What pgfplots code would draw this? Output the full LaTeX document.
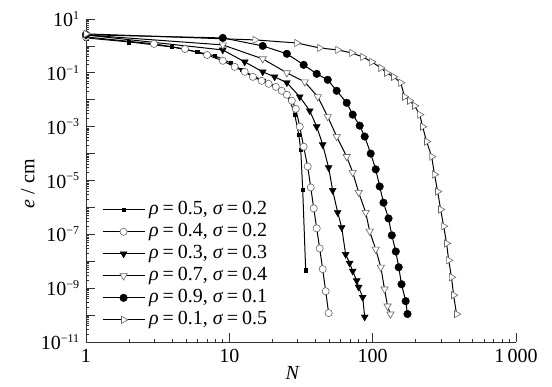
\documentclass[border=0pt]{standalone}
\usepackage{fontspec}
\setmainfont{Liberation Serif}
\usepackage{pgfplots}
\pgfplotsset{compat=1.18}
\newcommand\tsup[1]{\raisebox{0.8ex}{\fontsize{12bp}{12bp}\selectfont #1}}
\newcommand\eq{\hspace{0.2em}=\hspace{0.2em}}
\begin{document}
\fontsize{20bp}{22bp}\selectfont
\begin{tikzpicture}
\useasboundingbox (-86bp,-45bp) rectangle (466bp,342bp);
\begin{axis}[
 scale only axis, width=430bp, height=323bp,
 xmode=log, ymode=log,
 xmin=1, xmax=1000, ymin=1e-11, ymax=10,
 axis lines*=left,
 axis line style={-, line width=0.8bp, black!80},
 xtick={1,10,100,1000}, xticklabels={1,10,100,1\,000},
 ytick={1e-11,1e-10,1e-9,1e-8,1e-7,1e-6,1e-5,1e-4,1e-3,1e-2,1e-1,1,10},
 yticklabels={10\tsup{−11},,10\tsup{−9},,10\tsup{−7},,10\tsup{−5},,10\tsup{−3},,10\tsup{−1},,10\tsup{1}},
 minor xtick={}, minor ytick={},
 tick align=inside, major tick length=9bp,
 tick style={line width=0.8bp, black!80},
 clip=false,
 xlabel={\itshape N},
 xlabel style={at={(axis description cs:0.48,-0.095)}, anchor=center},
 ylabel={{\itshape e} / cm},
 ylabel style={at={(axis description cs:-0.135,0.49)}, anchor=center},
 legend cell align=left,
 legend image code/.code={\draw[mark repeat=2,mark phase=2,#1] plot coordinates {(0bp,0bp) (21bp,0bp) (42bp,0bp)};},
 legend style={draw=none, fill=none, at={(axis description cs:0.03,0.45)}, anchor=north west,
   row sep=0pt, nodes={inner ysep=1.5bp, inner xsep=4bp, text height=14bp, text depth=5bp}},
 every axis plot/.append style={black, line width=1bp},
]
\addplot[mark=square*, mark size=1.8bp, mark options={fill=black, line width=0.4bp}] coordinates {
(1,1.98) (1.99,1.41) (3.97,0.92) (5.94,0.60) (7.93,0.43) (10.2,0.234) (12.2,0.129) (14.6,0.077)
(17.4,0.0506) (20.7,0.033) (23.6,0.0215) (26.4,0.010) (28.6,0.0028) (30.5,5.1e-4) (31.5,1.4e-4)
(32.5,4.6e-6) (34.1,4.6e-9)};
\addlegendentry{{\itshape ρ}\eq 0.5, {\itshape σ}\eq 0.2}
\addplot[mark=*, mark size=3.6bp, mark options={fill=white, draw=black!60, line width=0.6bp}] coordinates {
(1,2.15) (2.98,1.19) (4.9,0.77) (7.0,0.46) (9.0,0.28) (10.9,0.167) (12.8,0.109) (14.6,0.071)
(16.8,0.0506) (18.8,0.039) (21.1,0.030) (23.2,0.0215) (25.2,0.0153) (27.3,0.0092) (29.1,0.0046)
(31.0,0.001) (33.0,1.8e-4) (35.2,3.3e-5) (37.0,5.5e-6) (38.8,9.2e-7) (40.7,1.67e-7) (42.7,3e-8)
(44.8,5.1e-9) (47.0,7.7e-10) (49.3,1.19e-10)};
\addlegendentry{{\itshape ρ}\eq 0.4, {\itshape σ}\eq 0.2}
\addplot[mark=triangle*, mark size=4bp, mark options={rotate=180, fill=black, line width=0.4bp}] coordinates {
(1,2.55) (9.0,0.71) (12.8,0.255) (17.1,0.109) (20.7,0.071) (25.2,0.043) (31.0,0.0129) (36.4,0.0039)
(40.7,0.001) (44.8,2.15e-4) (49.3,3e-5) (52.6,4.3e-6) (57.0,6.5e-7) (60.8,1.8e-7) (64.8,1.8e-8)
(69.1,8.5e-9) (72.6,4.3e-9) (77.4,1.9e-9) (79.9,1.09e-9) (85.2,4.6e-10) (88,8.5e-11)};
\addlegendentry{{\itshape ρ}\eq 0.3, {\itshape σ}\eq 0.3}
\addplot[mark=triangle*, mark size=4.2bp, mark options={rotate=180, fill=white, draw=black!60, line width=0.6bp}] coordinates {
(1,2.55) (9.0,1.09) (17.1,0.33) (25.2,0.1) (33.6,0.046) (41.4,0.0129) (48.6,0.00235) (56.1,4.3e-4)
(65.9,7.7e-5) (72.6,2e-5) (79.9,3.6e-6) (89.4,6.5e-7) (95.3,1.3e-7) (105,2.8e-8) (114,6e-9)
(121,9.2e-10) (127,2.15e-10) (133,1.09e-10)};
\addlegendentry{{\itshape ρ}\eq 0.7, {\itshape σ}\eq 0.4}
\addplot[mark=*, mark size=3.8bp, mark options={fill=black, line width=0.4bp}] coordinates {
(1,2.6) (9.0,1.98) (17.1,1.0) (25.2,0.51) (33.0,0.198) (40.7,0.092) (48.6,0.055) (56.1,0.0215)
(65.9,0.0077) (72.6,0.0028) (81.2,0.00109) (88,4.3e-4) (96.9,1e-4) (105,2.6e-5) (112,6e-6)
(119,1.5e-6) (129,3.9e-7) (136,9.2e-8) (145,2.3e-8) (152,6e-9) (159,1.4e-9) (170,3.3e-10) (175,1.1e-10)};
\addlegendentry{{\itshape ρ}\eq 0.9, {\itshape σ}\eq 0.1}
\addplot[mark=triangle*, mark size=4.2bp, mark options={rotate=-90, fill=white, draw=black!60, line width=0.6bp}] coordinates {
(1,2.8) (15.1,1.67) (29.5,1.29) (42.7,0.84) (57.0,0.71) (71.4,0.55) (85.2,0.39) (98.5,0.255)
(114,0.153) (125,0.1) (140,0.071) (157,0.043) (167,0.0129) (181,0.0092) (196,0.006) (213,0.0028)
(223,0.001) (238,2.8e-4) (258,7.7e-5) (270,1.67e-5) (284,3.9e-6) (298,8.4e-7) (313,2e-7)
(328,4.6e-8) (339,1.09e-8) (355,2.55e-9) (367,5.5e-10) (385,1.09e-10)};
\addlegendentry{{\itshape ρ}\eq 0.1, {\itshape σ}\eq 0.5}
\end{axis}
\end{tikzpicture}
\end{document}
